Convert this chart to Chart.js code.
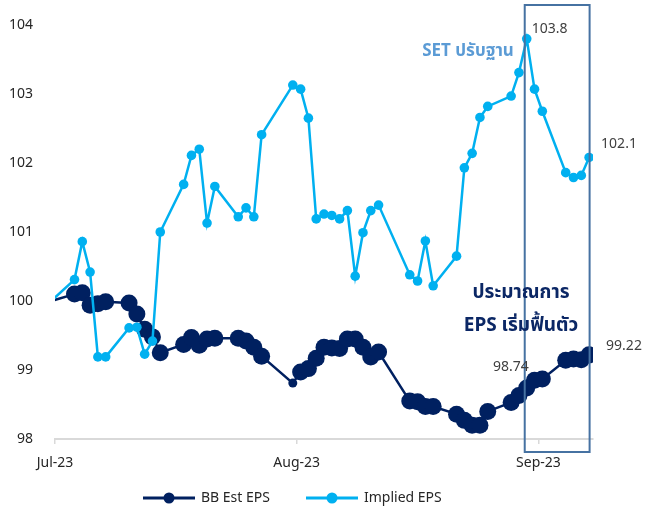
<!DOCTYPE html>
<html>
<head>
<meta charset="utf-8">
<script src="https://cdn.jsdelivr.net/npm/chart.js@4.4.0/dist/chart.umd.min.js"></script>
<style>
  html, body { margin: 0; padding: 0; background: #fff; }
</style>
</head>
<body>
<canvas id="myChart" width="645" height="512"></canvas>
<script>
// trading dates (Jun 30 = base 100)
const dates = [
  "2023-06-30",
  "2023-07-03", "2023-07-04", "2023-07-05", "2023-07-06", "2023-07-07",
  "2023-07-10", "2023-07-11", "2023-07-12", "2023-07-13", "2023-07-14",
  "2023-07-17", "2023-07-18", "2023-07-19", "2023-07-20", "2023-07-21",
  "2023-07-24", "2023-07-25", "2023-07-26", "2023-07-27",
  "2023-07-31", "2023-08-01", "2023-08-02", "2023-08-03", "2023-08-04", "2023-08-05",
  "2023-08-06", "2023-08-07", "2023-08-08", "2023-08-09", "2023-08-10", "2023-08-11",
  "2023-08-15", "2023-08-16", "2023-08-17", "2023-08-18",
  "2023-08-21", "2023-08-22", "2023-08-23", "2023-08-24", "2023-08-25",
  "2023-08-28", "2023-08-29", "2023-08-30", "2023-08-31", "2023-09-01",
  "2023-09-04", "2023-09-05", "2023-09-06", "2023-09-07"
];
const bbEst = [
  100.0,
  100.10, 100.12, 99.94, 99.96, 99.99,
  99.97, 99.81, 99.59, 99.48, 99.25,
  99.37, 99.47, 99.36, 99.45, 99.46,
  99.46, 99.42, 99.33, 99.20,
  98.81, 98.97, 99.02, 99.17, 99.33, 99.32,
  99.31, 99.45, 99.45, 99.33, 99.19, 99.26,
  98.55, 98.54, 98.47, 98.47,
  98.36, 98.27, 98.20, 98.20, 98.40,
  98.53, 98.63, 98.74, 98.85, 98.87,
  99.14, 99.16, 99.15, 99.22
];
const implied = [
  100.0,
  100.31, 100.86, 100.42, 99.19, 99.19,
  99.61, 99.62, 99.23, 99.42, 101.0,
  101.69, 102.11, 102.20, 101.13, 101.66,
  101.22, 101.35, 101.22, 102.41,
  103.13, 103.07, 102.65, 101.19, 101.26, 101.24,
  101.19, 101.31, 100.36, 100.99, 101.31, 101.39,
  100.38, 100.29, 100.87, 100.22,
  100.65, 101.93, 102.14, 102.66, 102.82,
  102.97, 103.31, 103.80, 103.07, 102.75,
  101.86, 101.79, 101.82, 102.08
];
const monthLabels = ["Jul-23", "Aug-23", "Sep-23"];
const monthStarts = ["2023-07-01", "2023-08-01", "2023-09-01"];
const seriesNames = ["BB Est EPS", "Implied EPS"];

const FONT = "'Noto Sans', 'Noto Sans Thai', Tahoma, sans-serif";
const NAVY = "#002060";
const SKY = "#00b0f0";

const origin = Date.parse("2023-07-01");
const dayOf = (s) => (Date.parse(s) - origin) / 86400000;
const toPoints = (vals) => vals.map((v, i) => ({ x: dayOf(dates[i]) + 0.5, y: v }));

const notes = {
  id: "notes",
  afterDraw(chart) {
    const { ctx, scales: { x, y } } = chart;
    const peak = dates.indexOf("2023-08-30");
    const last = dates.length - 1;
    const px = (i) => x.getPixelForValue(dayOf(dates[i]) + 0.5);
    ctx.save();

    // box around the recovery period
    ctx.strokeStyle = "#4672a2";
    ctx.lineWidth = 2;
    ctx.strokeRect(px(peak) - 2, 5, px(last) - px(peak) + 2.5, 447);

    // value labels
    ctx.font = "14px " + FONT;
    ctx.fillStyle = "#404040";
    ctx.textBaseline = "middle";
    ctx.textAlign = "left";
    ctx.fillText(implied[peak].toFixed(1), px(peak) + 5, y.getPixelForValue(implied[peak]) - 10);
    ctx.fillText(implied[last].toFixed(1), px(last) + 12, y.getPixelForValue(implied[last]) - 13);
    ctx.fillText(bbEst[last].toFixed(2), px(last) + 17, y.getPixelForValue(bbEst[last]) - 9);
    ctx.textAlign = "right";
    ctx.fillText(bbEst[peak].toFixed(2), px(peak) + 2, y.getPixelForValue(bbEst[peak]) - 21);

    // comments
    ctx.textAlign = "center";
    ctx.font = "bold 17px " + FONT;
    ctx.fillStyle = "#5b9bd5";
    ctx.fillText("SET ปรับฐาน", 468, 51);
    ctx.font = "bold 19px " + FONT;
    ctx.fillStyle = "#0b2765";
    ctx.fillText("ประมาณการ", 521, 293);
    ctx.fillText("EPS เริ่มฟื้นตัว", 521, 326);

    // legend
    const items = [[143, NAVY], [306, SKY]];
    ctx.font = "14px " + FONT;
    ctx.textAlign = "left";
    items.forEach(([lx, col], i) => {
      ctx.strokeStyle = col;
      ctx.lineWidth = 3;
      ctx.beginPath();
      ctx.moveTo(lx, 498);
      ctx.lineTo(lx + 52, 498);
      ctx.stroke();
      ctx.fillStyle = col;
      ctx.beginPath();
      ctx.arc(lx + 26, 498, 5.5, 0, Math.PI * 2);
      ctx.fill();
      ctx.fillStyle = "#262626";
      ctx.fillText(seriesNames[i], lx + 58, 498);
    });
    ctx.restore();
  }
};

const ctx = document.getElementById("myChart").getContext("2d");
new Chart(ctx, {
  type: "line",
  data: {
    datasets: [
      {
        label: seriesNames[0],
        data: toPoints(bbEst),
        borderColor: NAVY,
        backgroundColor: NAVY,
        borderWidth: 2.5,
        pointRadius: (c) => (c.dataIndex === 0 ? 0 : dates[c.dataIndex] === "2023-07-31" ? 4.5 : 8.5),
        pointBorderWidth: 0,
        order: 1,
      },
      {
        label: seriesNames[1],
        data: toPoints(implied),
        borderColor: SKY,
        backgroundColor: SKY,
        borderWidth: 2.5,
        pointRadius: (c) => (c.dataIndex === 0 ? 0 : 4.8),
        pointBorderWidth: 0,
        order: 0,
      },
    ],
  },
  options: {
    responsive: false,
    animation: false,
    layout: { padding: { top: 25, right: 52, left: 0, bottom: 0 } },
    plugins: { legend: { display: false }, tooltip: { enabled: false } },
    scales: {
      x: {
        type: "linear",
        min: 0,
        max: 69,
        afterBuildTicks: (s) => { s.ticks = monthStarts.map((d) => ({ value: dayOf(d) })); },
        afterFit: (s) => { s.height = 73; },
        ticks: {
          callback: (v, i) => monthLabels[i],
          autoSkip: false,
          maxRotation: 0,
          padding: 11,
          color: "#262626",
          font: { family: FONT, size: 14 },
        },
        grid: { drawOnChartArea: false, drawTicks: true, tickLength: 5, color: "#d9d9d9", lineWidth: 1.5 },
        border: { color: "#d9d9d9", width: 2 },
      },
      y: {
        min: 98,
        max: 104,
        afterFit: (s) => { s.width = 55; s.paddingTop = 0; s.paddingBottom = 0; },
        ticks: {
          stepSize: 1,
          padding: 22,
          color: "#262626",
          font: { family: FONT, size: 14 },
        },
        grid: { display: false, drawTicks: false },
        border: { display: false },
      },
    },
  },
  plugins: [notes],
});
</script>
</body>
</html>
